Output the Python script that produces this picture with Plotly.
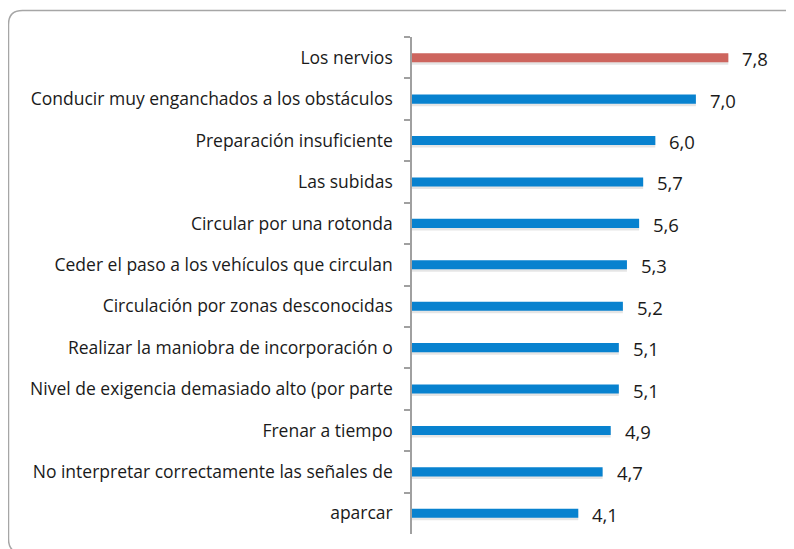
import plotly.graph_objects as go

categories = [
    "Los nervios",
    "Conducir muy enganchados a los obstáculos",
    "Preparación insuficiente",
    "Las subidas",
    "Circular por una rotonda",
    "Ceder el paso a los vehículos que circulan",
    "Circulación por zonas desconocidas",
    "Realizar la maniobra de incorporación o",
    "Nivel de exigencia demasiado alto (por parte",
    "Frenar a tiempo",
    "No interpretar correctamente las señales de",
    "aparcar",
]
values = [7.8, 7.0, 6.0, 5.7, 5.6, 5.3, 5.2, 5.1, 5.1, 4.9, 4.7, 4.1]
value_labels = ["7,8", "7,0", "6,0", "5,7", "5,6", "5,3", "5,2", "5,1", "5,1", "4,9", "4,7", "4,1"]

RED = "#CD655E"
BLUE = "#0882CF"
colors = [RED] + [BLUE] * (len(values) - 1)

OFF = 8  # page body margin
W, H = 794 - OFF, 549 - OFF
# plot area in screen pixels: x 412..777, y 37..534
L, R, T, B = 412 - OFF, 794 - 777, 37 - OFF, 549 - 534
pw, ph = W - L - R, H - T - B

def px(x):
    return (x - OFF - L) / pw

def py(y):
    return (H - B - (y - OFF)) / ph

fig = go.Figure()
# subtle shadow under bars
fig.add_trace(go.Bar(
    x=values, y=categories, orientation="h",
    marker=dict(color="rgba(0,0,0,0.10)", line=dict(width=0)),
    width=0.24, offset=-0.07, hoverinfo="skip", showlegend=False,
))
fig.add_trace(go.Bar(
    x=values, y=categories, orientation="h",
    marker=dict(color=colors, line=dict(width=0)),
    width=0.22, offset=-0.11, showlegend=False,
))
fig.update_layout(barmode="overlay")

for c, v, t in zip(categories, values, value_labels):
    fig.add_annotation(x=v, y=c, text=t, showarrow=False, xanchor="left",
                       xshift=12, yshift=-1,
                       font=dict(family="Open Sans", size=18.5, color="#1a1a1a"))

# rounded frame
x0, x1 = px(8.5), px(800)
y0, y1 = py(10.5), py(553)
rx, ry = 14 / pw, 14 / ph
path = (f"M {x0+rx},{y0} L {x1-rx},{y0} Q {x1},{y0} {x1},{y0-ry} "
        f"L {x1},{y1+ry} Q {x1},{y1} {x1-rx},{y1} L {x0+rx},{y1} "
        f"Q {x0},{y1} {x0},{y1+ry} L {x0},{y0-ry} Q {x0},{y0} {x0+rx},{y0} Z")
fig.add_shape(type="path", path=path, xref="paper", yref="paper",
              line=dict(color="#A6A6A6", width=1.5), layer="below")

fig.update_layout(
    width=W, height=H,
    margin=dict(l=L, r=R, t=T, b=B),
    paper_bgcolor="white", plot_bgcolor="white",
    font=dict(family="Open Sans", size=17, color="#1a1a1a"),
    xaxis=dict(range=[0, 9], visible=False, showgrid=False, zeroline=False),
    yaxis=dict(
        autorange="reversed", showgrid=False, zeroline=False,
        showline=True, linecolor="#A0A0A0", linewidth=1.5,
        ticks="outside", tickson="boundaries", ticklen=6, tickcolor="#A0A0A0",
        tickwidth=1.5, ticklabelstandoff=14,
        tickfont=dict(family="Open Sans", size=17.5, color="#1a1a1a"),
    ),
)

fig.write_html("out.html")
